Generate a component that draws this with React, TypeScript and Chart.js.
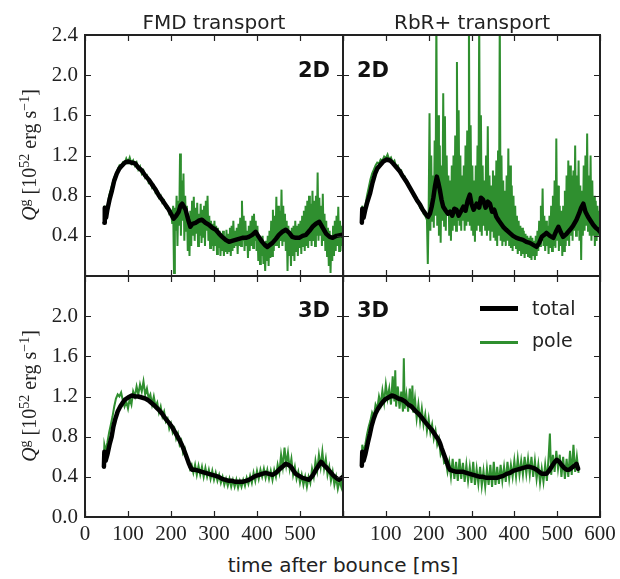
import React, { useEffect, useRef } from 'react';
import { Chart, registerables } from 'chart.js';

Chart.register(...registerables);

type Pt = [number, number];

const X_TICKS = [0, 100, 200, 300, 400, 500, 600];
const Y_TICKS = [0, 0.4, 0.8, 1.2, 1.6, 2.0, 2.4];
const COLUMN_TITLES = ['FMD transport', 'RbR+ transport'];
const X_TITLE = 'time after bounce [ms]';
const LEGEND_LABELS = ['total', 'pole'];

const GREEN = '#2f8f2f';

// FMD transport, 2D
const fmd2dTotal: Pt[] = [[45,0.53],[46,0.68],[49,0.58],[52,0.66],[57,0.76],[62,0.84],[68,0.95],[74,1.02],[80,1.07],[86,1.10],[93,1.13],[101,1.14],[108,1.13],[117,1.12],[124,1.08],[132,1.05],[140,1.00],[148,0.96],[156,0.91],[164,0.86],[172,0.80],[179,0.76],[187,0.71],[195,0.66],[201,0.61],[206,0.57],[212,0.60],[218,0.64],[222,0.70],[226,0.72],[230,0.69],[234,0.66],[240,0.56],[245,0.49],[250,0.52],[257,0.53],[264,0.55],[272,0.56],[280,0.53],[288,0.51],[296,0.48],[304,0.46],[312,0.42],[319,0.39],[327,0.36],[335,0.34],[342,0.35],[350,0.36],[358,0.37],[366,0.38],[374,0.38],[381,0.39],[389,0.41],[397,0.44],[404,0.39],[412,0.34],[418,0.31],[424,0.29],[430,0.31],[436,0.33],[444,0.37],[451,0.41],[459,0.44],[467,0.46],[475,0.43],[482,0.39],[490,0.38],[498,0.38],[506,0.40],[514,0.41],[522,0.45],[529,0.49],[537,0.52],[545,0.54],[553,0.48],[561,0.42],[569,0.39],[576,0.38],[585,0.40],[596,0.41],[600,0.40]];
const fmd2dPole: Pt[] = [[44,0.56],[45,0.70],[48,0.60],[52,0.68],[56,0.80],[60,0.86],[64,0.92],[68,0.98],[72,1.02],[76,1.06],[80,1.10],[84,1.08],[88,1.13],[92,1.12],[96,1.17],[100,1.13],[104,1.18],[108,1.12],[112,1.15],[116,1.10],[120,1.13],[124,1.06],[128,1.09],[132,1.02],[136,1.05],[140,0.98],[144,1.00],[148,0.93],[152,0.95],[156,0.88],[160,0.90],[164,0.83],[168,0.85],[172,0.78],[176,0.80],[180,0.73],[184,0.75],[188,0.68],[192,0.69],[196,0.62],[200,0.64],[203,0.52],[205,0.70],[207,0.03],[209,0.68],[211,0.45],[213,0.80],[215,0.30],[217,0.75],[219,0.50],[221,1.22],[223,0.40],[225,0.95],[227,0.55],[229,1.02],[231,0.35],[233,0.80],[235,0.45],[237,0.70],[239,0.25],[241,0.60],[243,0.20],[245,0.65],[247,0.30],[249,0.75],[251,0.40],[253,0.79],[255,0.35],[257,0.68],[259,0.42],[261,0.73],[263,0.30],[265,0.62],[267,0.40],[269,0.72],[271,0.33],[273,0.66],[275,0.38],[277,0.70],[279,0.30],[281,0.75],[283,0.45],[285,0.80],[287,0.35],[289,0.60],[291,0.28],[293,0.55],[295,0.30],[297,0.52],[299,0.25],[301,0.55],[303,0.30],[305,0.50],[307,0.22],[309,0.48],[311,0.28],[313,0.45],[315,0.20],[317,0.42],[319,0.25],[321,0.45],[323,0.20],[325,0.40],[327,0.24],[329,0.46],[331,0.22],[333,0.42],[335,0.25],[337,0.48],[339,0.20],[341,0.50],[343,0.25],[345,0.55],[347,0.28],[349,0.45],[351,0.30],[353,0.48],[355,0.22],[357,0.52],[359,0.30],[361,0.58],[363,0.30],[365,0.75],[367,0.35],[369,0.60],[371,0.25],[373,0.55],[375,0.30],[377,0.45],[379,0.18],[381,0.50],[383,0.25],[385,0.55],[387,0.30],[389,0.60],[391,0.28],[393,0.62],[395,0.35],[397,0.55],[399,0.25],[401,0.50],[403,0.15],[405,0.40],[407,0.12],[409,0.35],[411,0.20],[413,0.40],[415,0.12],[417,0.30],[419,0.05],[421,0.35],[423,0.15],[425,0.40],[427,0.10],[429,0.45],[431,0.18],[433,0.55],[435,0.20],[437,0.66],[439,0.25],[441,0.60],[443,0.30],[445,0.79],[447,0.30],[449,0.70],[451,0.28],[453,0.65],[455,0.35],[457,0.86],[459,0.30],[461,0.70],[463,0.35],[465,0.62],[467,0.25],[469,0.55],[471,0.05],[473,0.50],[475,0.20],[477,0.45],[479,0.10],[481,0.48],[483,0.20],[485,0.50],[487,0.15],[489,0.55],[491,0.25],[493,0.50],[495,0.20],[497,0.52],[499,0.28],[501,0.55],[503,0.22],[505,0.60],[507,0.30],[509,0.65],[511,0.25],[513,0.70],[515,0.30],[517,0.75],[519,0.28],[521,0.80],[523,0.35],[525,0.72],[527,0.30],[529,0.85],[531,0.35],[533,0.75],[535,0.30],[537,0.80],[539,0.40],[541,1.03],[543,0.35],[545,0.78],[547,0.40],[549,0.70],[551,0.30],[553,0.82],[555,0.35],[557,0.62],[559,0.25],[561,0.55],[563,0.20],[565,0.48],[567,0.10],[569,0.45],[571,0.03],[573,0.40],[575,0.15],[577,0.50],[579,0.20],[581,0.55],[583,0.25],[585,0.60],[587,0.30],[589,0.69],[591,0.25],[593,0.55],[595,0.30],[597,0.50],[599,0.25]];

// RbR+ transport, 2D
const rbr2dTotal: Pt[] = [[44,0.53],[45,0.67],[48,0.58],[52,0.66],[57,0.74],[63,0.82],[69,0.93],[75,1.02],[80,1.07],[86,1.10],[94,1.14],[102,1.16],[110,1.15],[117,1.12],[125,1.08],[133,1.04],[140,0.99],[148,0.94],[156,0.88],[164,0.82],[172,0.76],[180,0.71],[186,0.66],[191,0.63],[196,0.60],[199,0.59],[203,0.62],[207,0.69],[211,0.78],[215,0.90],[219,0.99],[223,0.92],[226,0.86],[230,0.76],[234,0.69],[240,0.65],[245,0.62],[250,0.64],[255,0.60],[260,0.67],[265,0.66],[270,0.60],[275,0.64],[281,0.69],[286,0.65],[291,0.75],[296,0.81],[300,0.72],[305,0.66],[312,0.72],[318,0.68],[322,0.78],[327,0.76],[333,0.68],[338,0.74],[343,0.72],[348,0.64],[353,0.66],[358,0.59],[364,0.55],[369,0.52],[374,0.49],[381,0.46],[389,0.43],[397,0.40],[405,0.38],[412,0.37],[420,0.36],[428,0.34],[436,0.33],[444,0.31],[452,0.29],[458,0.33],[464,0.39],[470,0.41],[475,0.43],[483,0.40],[491,0.38],[497,0.44],[503,0.49],[509,0.43],[514,0.39],[522,0.42],[530,0.46],[537,0.50],[545,0.56],[551,0.62],[556,0.68],[561,0.72],[566,0.64],[572,0.59],[578,0.55],[584,0.51],[590,0.48],[596,0.46],[600,0.44]];
const rbr2dPole: Pt[] = [[44,0.55],[45,0.70],[48,0.62],[52,0.70],[56,0.80],[60,0.88],[64,0.96],[68,1.02],[72,1.06],[76,1.10],[80,1.13],[84,1.12],[88,1.16],[92,1.15],[96,1.19],[100,1.17],[104,1.21],[108,1.16],[112,1.18],[116,1.13],[120,1.15],[124,1.09],[128,1.10],[132,1.04],[136,1.05],[140,0.99],[144,0.99],[148,0.93],[152,0.93],[156,0.87],[160,0.86],[164,0.80],[168,0.79],[172,0.74],[176,0.73],[180,0.68],[184,0.67],[188,0.62],[192,0.60],[196,0.56],[198,0.12],[200,0.66],[202,1.62],[204,0.45],[206,1.20],[208,0.55],[210,1.00],[212,0.48],[214,1.35],[216,0.60],[218,2.6],[220,0.50],[222,1.60],[224,0.40],[226,1.30],[228,0.33],[230,1.10],[232,0.55],[234,1.82],[236,0.50],[238,1.59],[240,0.45],[242,1.20],[244,0.60],[246,1.00],[248,0.40],[250,0.95],[252,0.35],[254,1.10],[256,0.45],[258,1.20],[260,0.50],[262,1.40],[264,0.45],[266,2.13],[268,0.55],[270,1.65],[272,0.50],[274,1.20],[276,0.45],[278,1.00],[280,0.55],[282,1.10],[284,0.45],[286,1.30],[288,0.50],[290,1.45],[292,0.55],[294,2.6],[296,0.50],[298,1.50],[300,0.45],[302,1.10],[304,0.40],[306,0.95],[308,0.34],[310,1.10],[312,0.45],[314,1.30],[316,0.50],[318,2.6],[320,0.45],[322,1.60],[324,0.40],[326,1.10],[328,0.50],[330,0.95],[332,0.45],[334,1.20],[336,0.40],[338,1.49],[340,0.45],[342,1.00],[344,0.35],[346,0.90],[348,0.45],[350,1.05],[352,0.38],[354,1.00],[356,0.35],[358,1.15],[360,0.30],[362,1.25],[364,0.40],[366,2.6],[368,0.35],[370,1.20],[372,0.30],[374,0.95],[376,0.35],[378,0.85],[380,0.30],[382,1.00],[384,0.35],[386,1.27],[388,0.30],[390,1.10],[392,0.28],[394,0.90],[396,0.25],[398,0.80],[400,0.30],[402,0.70],[404,0.28],[406,0.60],[408,0.22],[410,0.55],[412,0.25],[414,0.50],[416,0.20],[418,0.48],[420,0.22],[422,0.45],[424,0.18],[426,0.42],[428,0.22],[430,0.40],[432,0.20],[434,0.38],[436,0.18],[438,0.40],[440,0.16],[442,0.38],[444,0.20],[446,0.35],[448,0.16],[450,0.40],[452,0.20],[454,0.45],[456,0.25],[458,0.55],[460,0.30],[462,0.70],[464,0.35],[466,0.87],[468,0.30],[470,0.60],[472,0.25],[474,0.55],[476,0.30],[478,0.50],[480,0.22],[482,0.60],[484,0.28],[486,0.70],[488,0.25],[490,0.80],[492,0.30],[494,0.95],[496,0.28],[498,1.37],[500,0.35],[502,0.90],[504,0.25],[506,0.70],[508,0.30],[510,0.65],[512,0.20],[514,0.70],[516,0.25],[518,0.85],[520,0.30],[522,1.00],[524,0.35],[526,1.15],[528,0.30],[530,1.10],[532,0.40],[534,1.00],[536,0.35],[538,1.05],[540,0.45],[542,1.30],[544,0.40],[546,1.00],[548,0.45],[550,1.15],[552,0.35],[554,0.90],[556,0.16],[558,0.85],[560,0.40],[562,1.10],[564,0.45],[566,1.20],[568,0.50],[570,1.42],[572,0.45],[574,1.00],[576,0.40],[578,1.20],[580,0.35],[582,0.95],[584,0.40],[586,0.80],[588,0.30],[590,0.75],[592,0.35],[594,0.70],[596,0.40],[598,0.65]];

// FMD transport, 3D
const fmd3dTotal: Pt[] = [[44,0.50],[45,0.65],[48,0.56],[52,0.62],[57,0.72],[62,0.80],[66,0.90],[70,0.97],[76,1.05],[82,1.10],[88,1.14],[93,1.17],[100,1.19],[109,1.21],[117,1.20],[124,1.20],[132,1.19],[140,1.18],[148,1.16],[156,1.13],[164,1.10],[171,1.07],[179,1.03],[187,0.98],[195,0.94],[202,0.90],[210,0.84],[218,0.78],[224,0.73],[230,0.67],[236,0.60],[241,0.54],[245,0.50],[249,0.47],[257,0.47],[265,0.46],[272,0.45],[280,0.44],[288,0.43],[296,0.42],[304,0.41],[311,0.40],[319,0.38],[327,0.37],[335,0.36],[342,0.36],[350,0.35],[358,0.35],[366,0.35],[374,0.36],[381,0.37],[389,0.39],[397,0.41],[405,0.42],[412,0.43],[420,0.44],[428,0.43],[436,0.42],[444,0.44],[451,0.47],[459,0.50],[467,0.53],[473,0.52],[479,0.50],[485,0.46],[490,0.43],[498,0.41],[506,0.39],[514,0.38],[521,0.37],[529,0.41],[537,0.47],[543,0.51],[549,0.55],[555,0.52],[560,0.50],[568,0.46],[576,0.42],[584,0.39],[591,0.37],[600,0.40]];
const fmd3dPole: Pt[] = [[44,0.60],[45,0.72],[48,0.66],[52,0.74],[56,0.84],[60,0.92],[64,1.00],[68,1.10],[72,1.18],[76,1.22],[80,1.20],[84,1.24],[88,1.16],[92,1.10],[96,1.15],[100,1.08],[104,1.18],[108,1.12],[112,1.25],[116,1.20],[120,1.30],[124,1.22],[128,1.32],[132,1.25],[136,1.35],[140,1.22],[144,1.28],[148,1.18],[152,1.22],[156,1.12],[160,1.20],[164,1.10],[168,1.14],[172,1.04],[176,1.10],[180,1.00],[184,1.05],[188,0.95],[192,0.98],[196,0.88],[200,0.93],[204,0.84],[208,0.88],[212,0.78],[216,0.83],[220,0.72],[224,0.76],[228,0.64],[232,0.68],[236,0.58],[240,0.56],[244,0.48],[248,0.52],[252,0.44],[256,0.52],[260,0.42],[264,0.51],[268,0.42],[272,0.50],[276,0.40],[280,0.49],[284,0.40],[288,0.47],[292,0.38],[296,0.46],[300,0.37],[304,0.44],[308,0.36],[312,0.42],[316,0.34],[320,0.40],[324,0.32],[328,0.38],[332,0.31],[336,0.38],[340,0.30],[344,0.37],[348,0.30],[352,0.37],[356,0.29],[360,0.36],[364,0.30],[368,0.37],[372,0.31],[376,0.39],[380,0.33],[384,0.41],[388,0.34],[392,0.44],[396,0.36],[400,0.46],[404,0.38],[408,0.47],[412,0.40],[416,0.48],[420,0.39],[424,0.47],[428,0.38],[432,0.46],[436,0.37],[440,0.47],[444,0.40],[448,0.52],[452,0.44],[456,0.62],[460,0.50],[464,0.69],[468,0.52],[472,0.64],[476,0.48],[480,0.58],[484,0.42],[488,0.50],[492,0.38],[496,0.45],[500,0.34],[504,0.42],[508,0.32],[512,0.40],[516,0.30],[520,0.40],[524,0.34],[528,0.48],[532,0.40],[536,0.56],[540,0.46],[544,0.62],[548,0.50],[552,0.65],[556,0.48],[560,0.58],[564,0.42],[568,0.50],[572,0.36],[576,0.45],[580,0.32],[584,0.40],[588,0.28],[592,0.36],[596,0.30],[600,0.45]];

// RbR+ transport, 3D
const rbr3dTotal: Pt[] = [[44,0.51],[45,0.65],[48,0.56],[52,0.62],[58,0.74],[63,0.83],[67,0.91],[71,0.97],[76,1.03],[82,1.08],[90,1.13],[98,1.17],[106,1.19],[114,1.21],[121,1.20],[129,1.18],[137,1.17],[145,1.15],[152,1.12],[160,1.10],[168,1.06],[176,1.03],[184,0.99],[191,0.95],[199,0.91],[207,0.87],[215,0.82],[223,0.77],[227,0.73],[230,0.69],[236,0.62],[242,0.55],[246,0.50],[250,0.47],[257,0.46],[265,0.45],[273,0.45],[281,0.45],[288,0.44],[296,0.43],[304,0.42],[312,0.41],[320,0.40],[327,0.40],[335,0.39],[343,0.39],[351,0.39],[359,0.39],[366,0.40],[374,0.41],[382,0.43],[390,0.44],[397,0.46],[405,0.47],[413,0.48],[421,0.49],[429,0.50],[436,0.50],[444,0.49],[452,0.47],[458,0.45],[464,0.43],[470,0.43],[475,0.43],[481,0.46],[487,0.50],[493,0.54],[499,0.57],[505,0.55],[510,0.52],[516,0.49],[522,0.47],[528,0.47],[534,0.49],[540,0.51],[545,0.53],[549,0.48]];
const rbr3dPole: Pt[] = [[44,0.58],[45,0.72],[48,0.64],[52,0.72],[56,0.82],[60,0.90],[64,0.96],[68,1.04],[72,1.00],[76,1.12],[80,1.08],[84,1.20],[88,1.12],[92,1.26],[96,1.14],[100,1.32],[104,1.18],[108,1.28],[112,1.12],[116,1.40],[120,1.15],[122,1.46],[124,1.10],[128,1.30],[132,1.08],[136,1.25],[140,1.05],[142,1.58],[144,1.08],[148,1.22],[152,1.05],[156,1.28],[160,1.08],[162,1.31],[164,1.04],[168,1.18],[172,0.98],[176,1.12],[180,0.95],[184,1.08],[188,0.92],[192,1.02],[196,0.86],[200,0.98],[204,0.84],[208,0.92],[212,0.78],[216,0.86],[220,0.72],[224,0.78],[228,0.62],[232,0.66],[236,0.54],[240,0.56],[244,0.45],[248,0.55],[252,0.40],[256,0.58],[260,0.38],[264,0.55],[268,0.36],[272,0.58],[276,0.38],[280,0.54],[284,0.35],[288,0.52],[292,0.36],[296,0.50],[300,0.34],[304,0.55],[308,0.32],[312,0.48],[316,0.33],[320,0.50],[324,0.31],[328,0.46],[332,0.30],[336,0.48],[340,0.32],[344,0.52],[348,0.30],[352,0.55],[356,0.32],[360,0.50],[364,0.33],[368,0.52],[372,0.36],[376,0.50],[380,0.35],[384,0.55],[388,0.38],[392,0.52],[396,0.40],[400,0.56],[404,0.40],[408,0.58],[412,0.42],[416,0.56],[420,0.42],[424,0.60],[428,0.43],[432,0.58],[436,0.42],[440,0.60],[444,0.40],[448,0.56],[452,0.38],[456,0.52],[460,0.34],[464,0.48],[468,0.35],[472,0.52],[476,0.36],[480,0.60],[483,0.83],[486,0.42],[490,0.62],[494,0.45],[498,0.66],[502,0.48],[506,0.62],[510,0.40],[514,0.60],[518,0.38],[522,0.58],[526,0.40],[530,0.66],[534,0.42],[538,0.72],[542,0.45],[546,0.60],[550,0.44]];

const SERIF = '"Liberation Serif", "DejaVu Serif", serif';
const SANS = '"DejaVu Sans", "Noto Sans", sans-serif';

const framePlugin = {
  id: 'panelFrame',
  afterDraw(chart: any) {
    const { ctx, chartArea: a, scales } = chart;
    const xs = scales.x;
    const ys = scales.y;
    ctx.save();
    ctx.strokeStyle = '#222';
    ctx.lineWidth = 1.2;
    ctx.beginPath();
    for (const t of X_TICKS) {
      const px = Math.round(xs.getPixelForValue(t)) + 0.5;
      ctx.moveTo(px, a.bottom);
      ctx.lineTo(px, a.bottom - 6);
      ctx.moveTo(px, a.top);
      ctx.lineTo(px, a.top + 6);
    }
    for (const t of Y_TICKS) {
      const py = Math.round(ys.getPixelForValue(t)) + 0.5;
      ctx.moveTo(a.left, py);
      ctx.lineTo(a.left + 6, py);
      ctx.moveTo(a.right, py);
      ctx.lineTo(a.right - 6, py);
    }
    ctx.stroke();
    ctx.lineWidth = 2;
    ctx.strokeStyle = '#222';
    ctx.strokeRect(a.left, a.top, a.right - a.left, a.bottom - a.top);
    ctx.restore();
  },
};

type PanelProps = {
  left: number;
  top: number;
  width: number;
  height: number;
  total: Pt[];
  pole: Pt[];
  showY: boolean;
  showX: boolean;
  hideYLabel: number;
  hideXLabel: number;
  padding: { left: number; right: number; top: number; bottom: number };
};

function Panel(p: PanelProps) {
  const ref = useRef<HTMLCanvasElement | null>(null);
  useEffect(() => {
    if (!ref.current) return;
    const chart = new Chart(ref.current, {
      type: 'line',
      data: {
        datasets: [
          {
            data: p.total.map(([x, y]) => ({ x, y })),
            borderColor: '#000',
            borderWidth: 4.5,
            pointRadius: 0,
            tension: 0,
            order: 0,
            clip: 0,
            borderJoinStyle: 'round',
            borderCapStyle: 'round',
          } as any,
          {
            data: p.pole.map(([x, y]) => ({ x, y })),
            borderColor: GREEN,
            borderWidth: 2,
            pointRadius: 0,
            tension: 0,
            order: 1,
            clip: 0,
          } as any,
        ],
      },
      options: {
        animation: false,
        responsive: false,
        maintainAspectRatio: false,
        events: [],
        layout: { padding: p.padding },
        plugins: { legend: { display: false }, tooltip: { enabled: false } },
        scales: {
          x: {
            type: 'linear',
            min: 0,
            max: 600,
            display: p.showX,
            grid: { display: false, drawTicks: false },
            border: { display: false },
            ticks: {
              stepSize: 100,
              padding: 5,
              autoSkip: false,
              maxRotation: 0,
              color: '#222',
              font: { family: SERIF, size: 21 },
              callback: (v: any) => (Math.abs(Number(v) - p.hideXLabel) < 1e-6 ? '' : String(v)),
            },
            afterFit: (s: any) => {
              s.height = p.showX ? 30 : 0;
            },
          },
          y: {
            type: 'linear',
            min: 0,
            max: 2.4,
            display: p.showY,
            grid: { display: false, drawTicks: false },
            border: { display: false },
            ticks: {
              stepSize: 0.4,
              padding: 7,
              color: '#222',
              font: { family: SERIF, size: 21 },
              callback: (v: any) => (Math.abs(Number(v) - p.hideYLabel) < 1e-6 ? '' : Number(v).toFixed(1)),
            },
            afterFit: (s: any) => {
              s.width = p.showY ? 85 : 0;
            },
          },
        },
      } as any,
      plugins: [framePlugin],
    });
    return () => chart.destroy();
  }, []);
  return (
    <canvas
      ref={ref}
      width={p.width}
      height={p.height}
      style={{ position: 'absolute', left: p.left, top: p.top, width: p.width, height: p.height }}
    />
  );
}

const abs = (extra: React.CSSProperties): React.CSSProperties => ({ position: 'absolute', whiteSpace: 'nowrap', ...extra });

function YTitle({ cy }: { cy: number }) {
  return (
    <div
      style={abs({
        left: 27,
        top: cy,
        transform: 'translate(-50%, -50%) rotate(-90deg)',
        fontFamily: SERIF,
        fontSize: 20,
        color: '#222',
        lineHeight: '24px',
      })}
    >
      <i>Q</i>
      <sup style={{ fontSize: 14 }}>g</sup> [10<sup style={{ fontSize: 14 }}>52</sup> erg s<sup style={{ fontSize: 14 }}>−1</sup>]
    </div>
  );
}

const PAD = 24;

export default function App() {
  return (
    <div style={{ position: 'absolute', left: 0, top: 0, width: 620, height: 579, background: '#fff', overflow: 'hidden' }}>
      <Panel left={0} top={35 - PAD} width={343 + PAD} height={241 + 2 * PAD} total={fmd2dTotal} pole={fmd2dPole} showY={true} showX={false} hideYLabel={0} hideXLabel={-1} padding={{ left: 0, right: PAD, top: PAD, bottom: PAD }} />
      <Panel left={343 - PAD} top={35 - PAD} width={257 + 2 * PAD} height={241 + 2 * PAD} total={rbr2dTotal} pole={rbr2dPole} showY={false} showX={false} hideYLabel={0} hideXLabel={-1} padding={{ left: PAD, right: PAD, top: PAD, bottom: PAD }} />
      <Panel left={0} top={276 - PAD} width={343 + PAD} height={241 + PAD + 30} total={fmd3dTotal} pole={fmd3dPole} showY={true} showX={true} hideYLabel={2.4} hideXLabel={600} padding={{ left: 0, right: PAD, top: PAD, bottom: 0 }} />
      <Panel left={343 - PAD} top={276 - PAD} width={257 + 2 * PAD} height={241 + PAD + 30} total={rbr3dTotal} pole={rbr3dPole} showY={false} showX={true} hideYLabel={2.4} hideXLabel={0} padding={{ left: PAD, right: PAD, top: PAD, bottom: 0 }} />

      <div style={abs({ left: 214, top: 22, transform: 'translate(-50%, -50%)', fontFamily: SANS, fontSize: 20, color: '#222' })}>{COLUMN_TITLES[0]}</div>
      <div style={abs({ left: 472, top: 22, transform: 'translate(-50%, -50%)', fontFamily: SANS, fontSize: 20, color: '#222' })}>{COLUMN_TITLES[1]}</div>

      <YTitle cy={155} />
      <YTitle cy={396} />

      <div style={abs({ left: 343, top: 565, transform: 'translate(-50%, -50%)', fontFamily: SANS, fontSize: 20, color: '#222' })}>{X_TITLE}</div>

      <div style={abs({ left: 330, top: 70, transform: 'translate(-100%, -50%)', fontFamily: SANS, fontWeight: 'bold', fontSize: 21, color: '#111' })}>2D</div>
      <div style={abs({ left: 357, top: 70, transform: 'translate(0, -50%)', fontFamily: SANS, fontWeight: 'bold', fontSize: 21, color: '#111' })}>2D</div>
      <div style={abs({ left: 330, top: 310, transform: 'translate(-100%, -50%)', fontFamily: SANS, fontWeight: 'bold', fontSize: 21, color: '#111' })}>3D</div>
      <div style={abs({ left: 357, top: 310, transform: 'translate(0, -50%)', fontFamily: SANS, fontWeight: 'bold', fontSize: 21, color: '#111' })}>3D</div>

      <div style={abs({ left: 480, top: 306, width: 38, height: 5, background: '#000' })} />
      <div style={abs({ left: 480, top: 341, width: 38, height: 3, background: GREEN })} />
      <div style={abs({ left: 532, top: 308, transform: 'translate(0, -50%)', fontFamily: SANS, fontSize: 19, color: '#222' })}>{LEGEND_LABELS[0]}</div>
      <div style={abs({ left: 532, top: 340, transform: 'translate(0, -50%)', fontFamily: SANS, fontSize: 19, color: '#222' })}>{LEGEND_LABELS[1]}</div>
    </div>
  );
}
